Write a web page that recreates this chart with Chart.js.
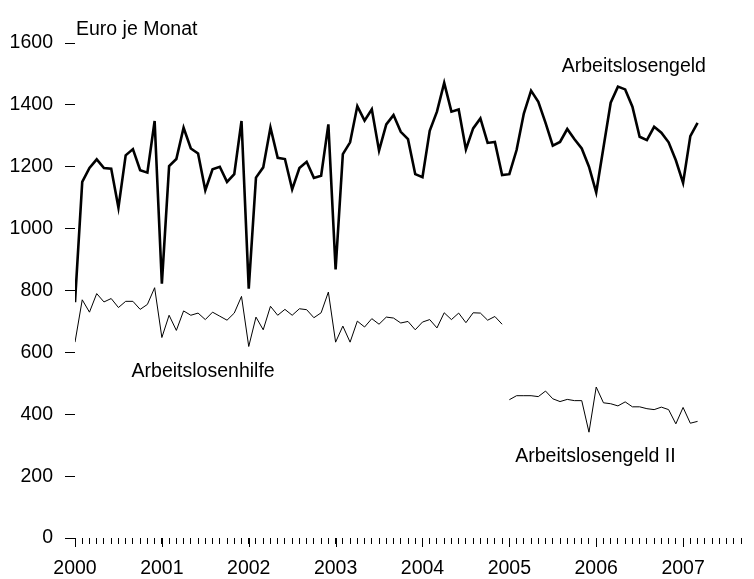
<!DOCTYPE html>
<html>
<head>
<meta charset="utf-8">
<script src="https://cdn.jsdelivr.net/npm/chart.js@4/dist/chart.umd.min.js"></script>
<style>
html,body{margin:0;padding:0;background:#fff;}
#wrap{width:754px;height:579px;}
</style>
</head>
<body>
<div id="wrap"><canvas id="c" width="754" height="579"></canvas></div>
<script>
// ---- data (monthly, Jan 2000 = month 0) ----
const yearLabels = ['2000','2001','2002','2003','2004','2005','2006','2007'];
const yTickValues = [0,200,400,600,800,1000,1200,1400,1600];

// Arbeitslosengeld, Jan 2000 - Mar 2007
const arbeitslosengeld = [
  762,1151,1196,1224,1196,1194,1068,1237,1257,1189,1181,1348,
  822,1202,1225,1326,1259,1243,1124,1192,1200,1151,1176,1348,
  806,1165,1198,1327,1229,1225,1127,1196,1216,1164,1171,1337,
  868,1241,1279,1396,1349,1386,1252,1337,1367,1313,1289,1176,
  1166,1316,1378,1471,1378,1385,1256,1324,1356,1277,1280,1173,
  1176,1254,1372,1446,1410,1342,1268,1280,1322,1289,1259,1200,
  1117,1262,1407,1459,1450,1394,1297,1286,1329,1310,1279,1221,
  1148,1299,1342
];
const arbeitslosengeldStart = 0;

// Arbeitslosenhilfe, Jan 2000 - Dec 2004
const arbeitslosenhilfe = [
  633,770,730,790,763,774,745,765,765,739,755,809,
  648,720,671,734,720,727,706,730,717,704,727,781,
  619,714,673,749,720,739,720,741,738,712,728,795,
  633,685,633,701,682,709,691,714,711,695,700,673,
  698,706,679,728,706,727,696,728,727,704,716,691
];
const arbeitslosenhilfeStart = 0;

// Arbeitslosengeld II, Jan 2005 - Mar 2007
const arbeitslosengeld2 = [
  447,460,460,460,457,475,450,441,448,444,444,342,
  488,437,434,427,440,424,424,418,415,423,415,369,
  422,371,377
];
const arbeitslosengeld2Start = 60;

const xMaxMonth = 92;

// series labels placed in data coordinates: [text, month, value]
const seriesLabels = [
  ['Arbeitslosengeld', 77.2, 1506],
  ['Arbeitslosenhilfe', 17.7, 520],
  ['Arbeitslosengeld II', 71.9, 246]
];
const unitLabel = 'Euro je Monat';

// ---- font selection ----
function hasFont(name){
  const c=document.createElement('canvas').getContext('2d');
  const s='Arbeitslosengeld 1600 Monat';
  c.font='40px monospace'; const a=c.measureText(s).width;
  c.font='40px "'+name+'", monospace'; const b=c.measureText(s).width;
  return Math.abs(a-b)>0.5;
}
let FAMILY, FSIZE;
if (hasFont('Liberation Sans Narrow')) { FAMILY='"Liberation Sans Narrow"'; FSIZE=23.5; }
else { FAMILY='"Liberation Sans", Arial, sans-serif'; FSIZE=19.5; }

const toXY = (arr, start) => arr.map((v,i)=>({x:start+i, y:v}));

const textPlugin = {
  id:'texts',
  afterDraw(chart){
    const ctx=chart.ctx, xs=chart.scales.x, ys=chart.scales.y;
    ctx.save();
    ctx.fillStyle='#000';
    ctx.font = FSIZE+'px '+FAMILY;
    ctx.textBaseline='alphabetic';
    ctx.textAlign='center';
    seriesLabels.forEach(([t,m,v])=>{
      ctx.fillText(t, xs.getPixelForValue(m), ys.getPixelForValue(v));
    });
    ctx.textAlign='left';
    ctx.fillText(unitLabel, chart.chartArea.left+1, chart.chartArea.top-8);
    // longer marks at the year ticks
    ctx.strokeStyle='#000'; ctx.lineWidth=1;
    const b=chart.chartArea.bottom;
    for(let m=0;m<=xMaxMonth;m+=12){
      const px=Math.round(xs.getPixelForValue(m))+0.5;
      ctx.beginPath(); ctx.moveTo(px,b); ctx.lineTo(px,b+9); ctx.stroke();
    }
    ctx.restore();
  }
};

new Chart(document.getElementById('c'), {
  type:'line',
  data:{
    datasets:[
      {label:'Arbeitslosengeld', data:toXY(arbeitslosengeld, arbeitslosengeldStart),
       borderColor:'#000', borderWidth:2.6, pointRadius:0, tension:0, fill:false},
      {label:'Arbeitslosenhilfe', data:toXY(arbeitslosenhilfe, arbeitslosenhilfeStart),
       borderColor:'#000', borderWidth:1, pointRadius:0, tension:0, fill:false},
      {label:'Arbeitslosengeld II', data:toXY(arbeitslosengeld2, arbeitslosengeld2Start),
       borderColor:'#000', borderWidth:1, pointRadius:0, tension:0, fill:false}
    ]
  },
  options:{
    responsive:false, animation:false, devicePixelRatio:1,
    layout:{padding:{top:43,right:5.4,left:0,bottom:0}},
    plugins:{legend:{display:false}, tooltip:{enabled:false}},
    elements:{line:{borderCapStyle:'butt',borderJoinStyle:'miter'}},
    scales:{
      x:{
        type:'linear', min:0, max:xMaxMonth,
        afterFit(s){ s.height=41; },
        afterBuildTicks(s){ const t=[]; for(let m=0;m<=xMaxMonth;m++) t.push({value:m}); s.ticks=t; },
        ticks:{
          autoSkip:false, maxRotation:0, minRotation:0, padding:13,
          color:'#000', font:{family:FAMILY, size:FSIZE},
          callback:(v)=> (v%12===0 && yearLabels[v/12]!==undefined) ? yearLabels[v/12] : ''
        },
        grid:{display:true, drawOnChartArea:false, drawTicks:true, tickLength:6, tickColor:'#000', tickWidth:1, color:'#000'},
        border:{display:false}
      },
      y:{
        type:'linear', min:0, max:1600,
        afterFit(s){ s.width=75; },
        afterBuildTicks(s){ s.ticks=yTickValues.map(v=>({value:v})); },
        ticks:{padding:12, color:'#000', font:{family:FAMILY, size:FSIZE},
          callback:(v)=>String(v)},
        grid:{display:true, drawOnChartArea:false, drawTicks:true, tickLength:10, tickColor:'#000', tickWidth:1},
        border:{display:false}
      }
    }
  },
  plugins:[textPlugin]
});
</script>
</body>
</html>
